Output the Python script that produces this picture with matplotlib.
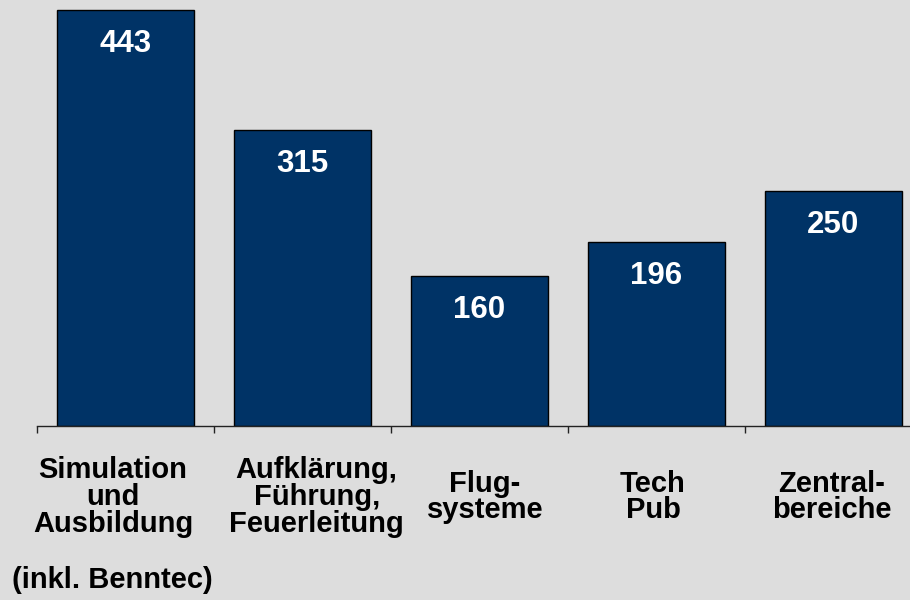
import numpy as np
import matplotlib.pyplot as plt

categories = ['Simulation\nund\nAusbildung', 'Aufklärung,\nFührung,\nFeuerleitung',
              'Flug-\nsysteme', 'Tech\nPub', 'Zentral-\nbereiche']
values = [443, 315, 160, 196, 250]
footnote = '(inkl. Benntec)'

plt.rcParams['font.family'] = ['Liberation Sans', 'DejaVu Sans']

fig = plt.figure(figsize=(9.1, 6.0), dpi=100)
fig.patch.set_facecolor('#dddddd')
# axes run a little past the right edge, like the original slide
ax = fig.add_axes([37 / 910, 1 - 426 / 600, 5 * 177 / 910, 426 / 600])
ax.set_facecolor('#dddddd')

x = np.arange(len(values))
bars = ax.bar(x, values, width=0.775, color='#003366', edgecolor='black', linewidth=1)
ax.set_xlim(-0.5, len(values) - 0.5)
ax.set_ylim(0, 453.7)

for b, v in zip(bars, values):
    ax.annotate(str(v), (b.get_x() + b.get_width() / 2, v), xytext=(0, -24.5),
                textcoords='offset points', ha='center', va='center',
                color='white', fontsize=22.5, fontweight='bold')

for s in ['top', 'right', 'left']:
    ax.spines[s].set_visible(False)
ax.spines['bottom'].set_color('#222222')
ax.spines['bottom'].set_linewidth(1)
ax.set_yticks([])
ax.set_xticks([])
ax.set_xticks(np.arange(-0.5, len(values), 1), minor=True)
ax.tick_params(axis='x', which='minor', length=5, width=1, color='#222222', direction='out')

label_shift = [-0.07, 0.08, 0.03, -0.02, -0.01]
for i, (lab, dx) in enumerate(zip(categories, label_shift)):
    ax.text(i + dx, -0.1667, lab, transform=ax.get_xaxis_transform(), ha='center', va='center',
            fontsize=21, fontweight='bold', linespacing=0.95)

fig.text(112 / 910, 1 - 580 / 600, footnote, ha='center', va='center',
         fontsize=21, fontweight='bold')

fig.savefig('out.png', dpi=100, facecolor=fig.get_facecolor())
